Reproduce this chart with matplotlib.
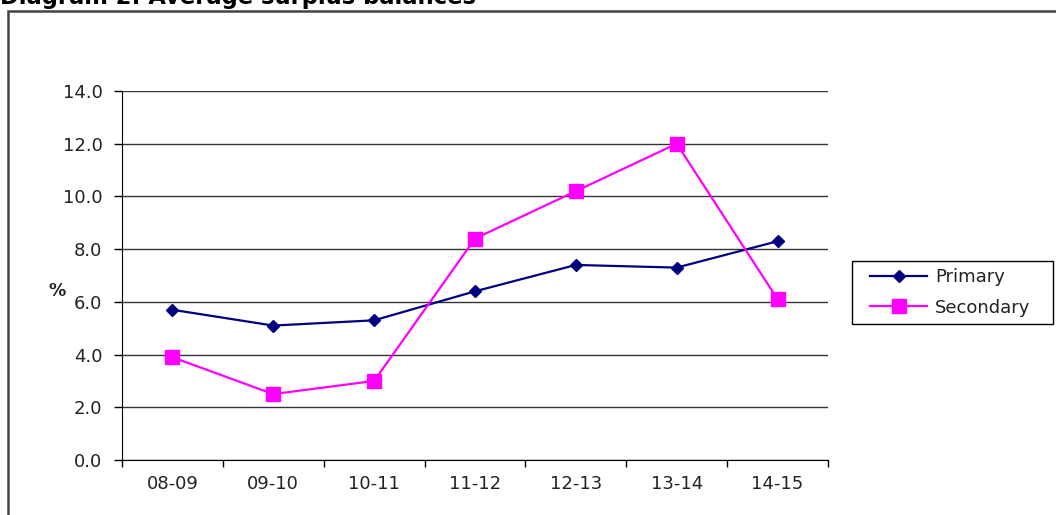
import matplotlib.pyplot as plt
from matplotlib.patches import Rectangle

plt.rcParams['font.family'] = ['DejaVu Sans']

years = ['08-09', '09-10', '10-11', '11-12', '12-13', '13-14', '14-15']
primary = [5.7, 5.1, 5.3, 6.4, 7.4, 7.3, 8.3]
secondary = [3.9, 2.5, 3.0, 8.4, 10.2, 12.0, 6.1]

fig = plt.figure(figsize=(10.56, 5.15), dpi=100)
ax = fig.add_axes([0.1155, 0.1068, 0.6686, 0.7165])

x = range(len(years))
ax.plot(x, primary, color='#000080', marker='D', markersize=6.5, lw=1.6, label='Primary')
ax.plot(x, secondary, color='#FF00FF', marker='s', markersize=10, lw=1.6, label='Secondary')

ax.set_xlim(-0.5, len(years) - 0.5)
ax.set_ylim(0, 14)
ax.set_yticks([0, 2, 4, 6, 8, 10, 12, 14])
ax.set_yticklabels(['%.1f' % v for v in ax.get_yticks()], color='#222222')
ax.set_xticks(list(x))
ax.set_xticklabels(years, color='#222222')
ax.set_xticks([i - 0.5 for i in range(len(years) + 1)], minor=True)
ax.tick_params(axis='x', which='major', length=0, pad=11, labelsize=13)
ax.tick_params(axis='x', which='minor', length=5, width=1, direction='out')
ax.tick_params(axis='y', length=6, width=1, direction='out', pad=8, labelsize=13)
ax.yaxis.grid(True, color='#333333', lw=1)
ax.set_axisbelow(True)
for s in ['top', 'right']:
    ax.spines[s].set_visible(False)

fig.text(0.0464, 0.434, '%', fontsize=12.5, fontweight='bold', va='center', color='#222222')

# legend box drawn separately so the padding matches
fig.patches.append(Rectangle((0.8068, 0.3709), 0.1903, 0.1223, transform=fig.transFigure,
                             fill=False, edgecolor='black', lw=1))
leg = ax.legend(loc='upper left', bbox_to_anchor=(0.8239, 0.4796), bbox_transform=fig.transFigure,
                borderaxespad=0, borderpad=0, fontsize=13, frameon=False,
                handlelength=3.17, labelspacing=0.7, handletextpad=0.44)
for t in leg.get_texts():
    t.set_color('#222222')

fig.patches.append(Rectangle((0.0075, -0.1), 1.2, 1.079, transform=fig.transFigure,
                             fill=False, edgecolor='#444444', lw=1.8))
fig.text(0.0, 0.992, 'Diagram 2: Average surplus balances', fontsize=16.3,
         fontweight='bold', va='baseline')

fig.savefig('out.png', dpi=100)
